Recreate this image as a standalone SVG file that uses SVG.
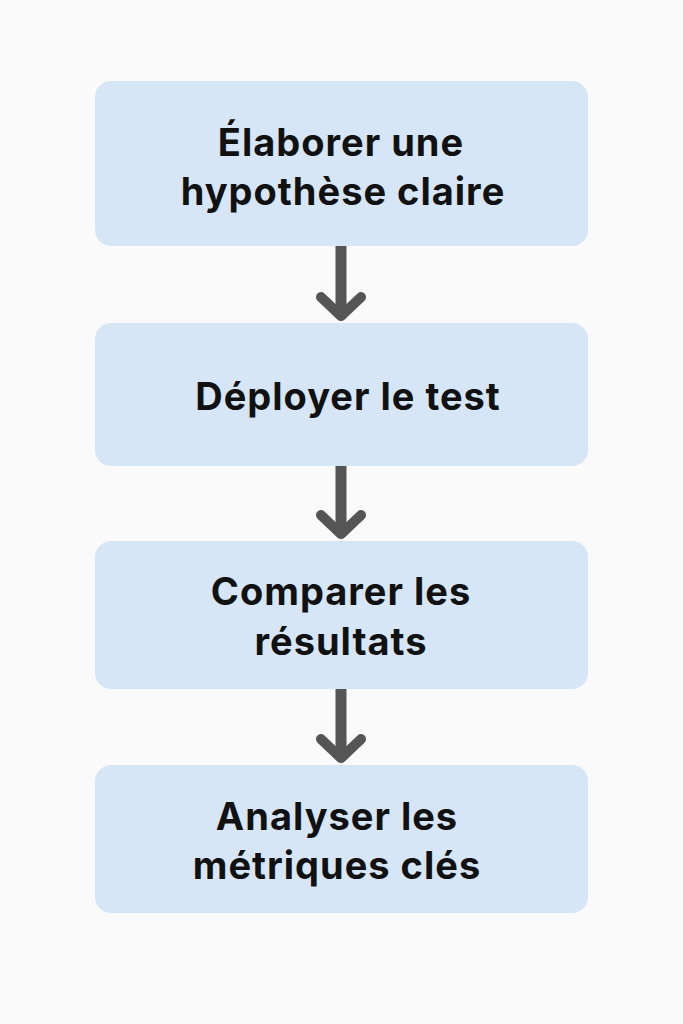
<svg xmlns="http://www.w3.org/2000/svg" width="683" height="1024" viewBox="0 0 683 1024">
<style>
.box{fill:#d6e6f7}
.t{font-family:Inter,"Noto Sans",sans-serif;font-weight:700;font-size:38px;letter-spacing:1px;fill:#111;text-anchor:middle}
.c{stroke:#555;stroke-width:11;fill:none;stroke-linecap:butt;stroke-linejoin:miter}
.h{stroke:#555;stroke-width:10;fill:none;stroke-linecap:round;stroke-linejoin:round}
</style>
<rect width="683" height="1024" fill="#fafafa"/>
<g id="connectors">
<line class="c" x1="341" y1="246" x2="341" y2="314"/><polyline class="h" points="321,297 341,316 361,297"/>
<line class="c" x1="341" y1="466" x2="341" y2="532"/><polyline class="h" points="321,515 341,534 361,515"/>
<line class="c" x1="341" y1="689" x2="341" y2="756"/><polyline class="h" points="321,739 341,758 361,739"/>
</g>
<g id="n1"><rect class="box" x="95" y="81" width="493" height="165" rx="16"/>
<text class="t" x="341" y="156">Élaborer une</text><text class="t" x="343" y="205">hypothèse claire</text></g>
<g id="n2"><rect class="box" x="95" y="323" width="493" height="143" rx="16"/>
<text class="t" x="348" y="410">Déployer le test</text></g>
<g id="n3"><rect class="box" x="95" y="541" width="493" height="148" rx="16"/>
<text class="t" x="341" y="605">Comparer les</text><text class="t" x="341" y="655">résultats</text></g>
<g id="n4"><rect class="box" x="95" y="765" width="493" height="148" rx="16"/>
<text class="t" x="337" y="830">Analyser les</text><text class="t" x="337" y="879">métriques clés</text></g>
</svg>
